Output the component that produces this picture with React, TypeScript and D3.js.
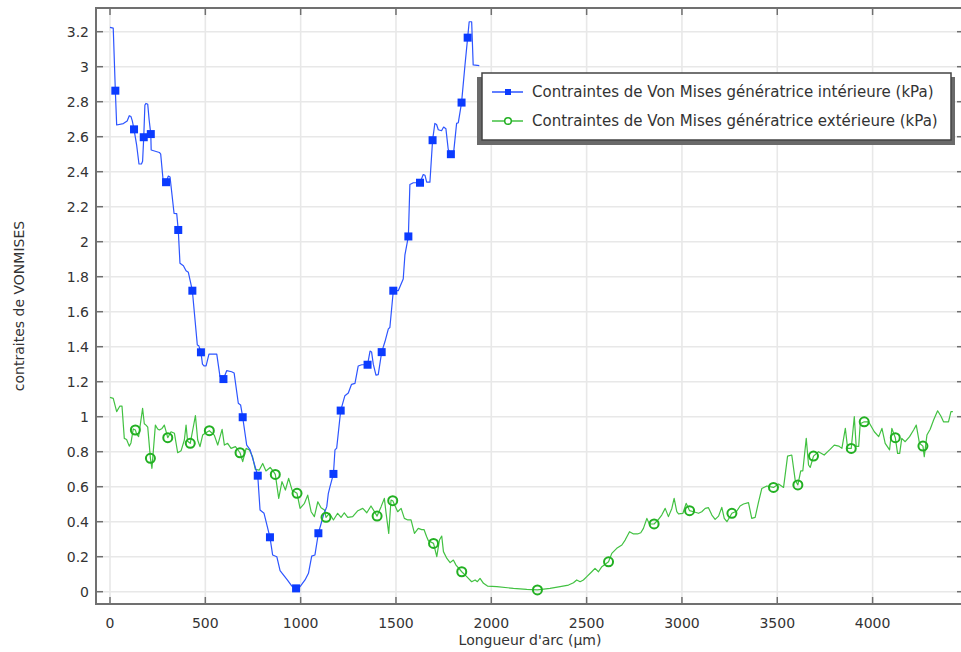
import React from "react";
import * as d3 from "d3";

// Inner generatrix (blue) — arc length (µm) and Von Mises stress (kPa)
const innerX = [0,17,28,35,70,90,101,110,117,126,140,152,165,171,177,183,189,198,205,214,216,259,266,280,294,306,315,322,336,350,358,367,385,399,411,432,458,466,477,485,493,504,519,560,577,595,612,638,651,673,685,696,717,735,757,775,787,808,839,853,875,892,930,953,976,997,1023,1041,1058,1075,1093,1119,1137,1145,1154,1172,1180,1189,1210,1232,1250,1267,1285,1302,1320,1351,1364,1372,1381,1395,1407,1425,1442,1460,1468,1486,1512,1538,1547,1565,1573,1591,1626,1643,1652,1661,1678,1692,1704,1713,1722,1739,1750,1762,1774,1788,1801,1818,1827,1844,1862,1876,1884,1897,1905,1937];
const innerY = [3.225,3.22,2.863,2.667,2.675,2.69,2.72,2.715,2.69,2.642,2.55,2.444,2.444,2.46,2.597,2.78,2.79,2.785,2.7,2.615,2.524,2.51,2.5,2.334,2.34,2.375,2.37,2.3,2.162,2.16,2.067,1.877,1.863,1.834,1.825,1.72,1.41,1.405,1.368,1.3,1.29,1.29,1.358,1.358,1.229,1.215,1.263,1.257,1.25,1.077,1.067,0.997,0.838,0.81,0.73,0.663,0.467,0.448,0.311,0.21,0.2,0.12,0.067,0.033,0.019,0.029,0.067,0.105,0.203,0.21,0.334,0.435,0.486,0.56,0.6,0.673,0.81,0.82,1.035,1.12,1.135,1.185,1.19,1.29,1.297,1.297,1.375,1.37,1.3,1.238,1.24,1.369,1.428,1.502,1.51,1.72,1.72,1.787,1.925,2.03,2.327,2.337,2.337,2.384,2.38,2.34,2.34,2.58,2.676,2.67,2.64,2.634,2.655,2.645,2.528,2.5,2.495,2.676,2.68,2.795,3.01,3.166,3.257,3.257,3.01,3.006];
const innerMarkers = [28,126,177,214,294,358,432,477,595,696,775,839,976,1093,1172,1210,1351,1425,1486,1565,1626,1692,1788,1844,1876];

// Outer generatrix (green)
const outerX = [0,17,35,52,63,75,87,101,110,122,133,140,150,171,180,189,198,212,220,238,250,259,273,285,303,320,338,355,373,390,399,407,421,434,448,460,472,486,505,521,547,565,588,600,617,635,658,682,696,714,731,748,762,783,801,818,840,855,867,885,902,920,937,955,981,997,1020,1037,1055,1072,1090,1107,1125,1133,1151,1172,1194,1212,1229,1247,1273,1300,1326,1347,1369,1401,1422,1439,1448,1462,1474,1483,1509,1527,1544,1562,1579,1597,1617,1635,1647,1661,1670,1697,1714,1728,1740,1749,1767,1784,1801,1815,1845,1871,1897,1915,1927,1941,1959,1980,2029,2116,2186,2242,2308,2361,2405,2431,2448,2466,2483,2501,2527,2544,2562,2580,2615,2632,2658,2685,2702,2725,2746,2767,2784,2798,2816,2829,2854,2877,2894,2912,2929,2947,2959,2973,2982,3005,3022,3040,3061,3087,3104,3122,3139,3157,3174,3192,3209,3222,3236,3262,3288,3305,3323,3349,3366,3384,3401,3419,3445,3480,3507,3533,3554,3576,3594,3608,3623,3634,3652,3664,3673,3690,3716,3746,3777,3799,3822,3839,3857,3869,3888,3904,3914,3927,3935,3956,3979,4009,4032,4049,4066,4089,4101,4119,4131,4142,4153,4171,4194,4215,4229,4246,4264,4271,4285,4302,4320,4341,4358,4372,4398,4411,4421];
const outerY = [1.11,1.105,1.029,1.061,1.06,0.876,0.87,0.832,0.85,0.93,0.924,0.9,0.886,1.048,0.96,0.952,0.94,0.762,0.705,0.952,0.93,0.924,0.933,0.952,0.88,0.914,0.905,0.794,0.806,0.867,0.952,0.86,0.848,0.924,1.006,0.867,0.829,0.895,0.91,0.92,0.895,0.838,0.928,0.838,0.848,0.819,0.829,0.794,0.743,0.819,0.81,0.771,0.699,0.695,0.733,0.69,0.71,0.69,0.67,0.533,0.629,0.581,0.648,0.58,0.562,0.476,0.505,0.552,0.457,0.429,0.514,0.48,0.467,0.425,0.448,0.41,0.448,0.425,0.451,0.425,0.429,0.463,0.476,0.451,0.49,0.432,0.486,0.533,0.45,0.333,0.524,0.52,0.457,0.476,0.419,0.41,0.41,0.333,0.362,0.355,0.355,0.314,0.291,0.276,0.2,0.295,0.318,0.229,0.19,0.166,0.181,0.152,0.114,0.086,0.057,0.067,0.057,0.076,0.048,0.032,0.029,0.019,0.013,0.01,0.019,0.029,0.038,0.051,0.067,0.057,0.067,0.086,0.114,0.133,0.114,0.143,0.171,0.219,0.248,0.267,0.295,0.343,0.33,0.33,0.337,0.362,0.419,0.387,0.387,0.413,0.438,0.476,0.429,0.476,0.533,0.457,0.445,0.448,0.505,0.463,0.457,0.448,0.457,0.476,0.48,0.438,0.413,0.432,0.482,0.419,0.4,0.448,0.461,0.49,0.501,0.509,0.419,0.425,0.509,0.59,0.604,0.596,0.615,0.596,0.775,0.781,0.638,0.61,0.691,0.691,0.876,0.724,0.71,0.775,0.8,0.781,0.813,0.838,0.832,0.819,0.933,0.819,0.819,1.0,0.83,0.83,0.96,0.971,0.971,0.914,0.886,0.933,0.848,0.81,0.933,0.88,0.79,0.79,0.876,0.857,0.886,0.924,0.952,0.848,0.832,0.771,0.895,0.928,0.981,1.034,1.004,0.971,0.971,1.029,1.029];
const outerMarkers = [133,212,303,421,521,682,867,981,1133,1401,1483,1697,1845,2242,2615,2854,3040,3262,3480,3608,3690,3888,3956,4119,4264];

const xTicks = [0, 500, 1000, 1500, 2000, 2500, 3000, 3500, 4000];
const yTicks = [0, 0.2, 0.4, 0.6, 0.8, 1, 1.2, 1.4, 1.6, 1.8, 2, 2.2, 2.4, 2.6, 2.8, 3, 3.2];

const legendLabels = [
  "Contraintes de Von Mises génératrice intérieure (kPa)",
  "Contraintes de Von Mises génératrice extérieure (kPa)",
];
const xTitle = "Longueur d'arc (µm)";
const yTitle = "contraites de VONMISES";

const W = 961, H = 652;
const L = 96, T = 8, R = 962, B = 604;
const FONT = "DejaVu Sans, sans-serif";

export default function App() {
  const x = d3.scaleLinear().domain([0, 4000]).range([110, 872.6]);
  const y = d3.scaleLinear().domain([0, 3.2]).range([591.7, 31.7]);

  const inner = innerX.map((v, i) => [v, innerY[i]] as [number, number]);
  const outer = outerX.map((v, i) => [v, outerY[i]] as [number, number]);
  const line = d3.line<[number, number]>().x(d => x(d[0])).y(d => y(d[1]));

  const innerM = innerMarkers.map(m => inner[innerX.indexOf(m)]).filter(Boolean);
  const outerM = outerMarkers.map(m => outer[outerX.indexOf(m)]).filter(Boolean);

  const blueLine = "#2d55ff";
  const blueMark = "#0b3bff";
  const greenLine = "#42c142";
  const greenMark = "#22b022";
  const axisCol = "#707070";
  const gridCol = "#e8e8e8";
  const textCol = "#333333";

  return (
    <svg width={W} height={H} style={{ position: "absolute", left: 0, top: 0, background: "#fff" }}
      fontFamily={FONT}>
      <defs>
        <clipPath id="plot">
          <rect x={L} y={T} width={R - L} height={B - T} />
        </clipPath>
      </defs>
      <rect x={0} y={0} width={W} height={H} fill="#fff" />
      {/* grid */}
      {xTicks.map(t => (
        <line key={"gx" + t} x1={x(t)} x2={x(t)} y1={T} y2={B} stroke={gridCol} strokeWidth={1.6} />
      ))}
      {yTicks.map(t => (
        <line key={"gy" + t} x1={L} x2={R} y1={y(t)} y2={y(t)} stroke={gridCol} strokeWidth={1.6} />
      ))}
      {/* series */}
      <g clipPath="url(#plot)">
        <path d={line(outer) || ""} fill="none" stroke={greenLine} strokeWidth={1.2} strokeLinejoin="round" />
        <path d={line(inner) || ""} fill="none" stroke={blueLine} strokeWidth={1.2} strokeLinejoin="round" />
        {outerM.map((d, i) => (
          <circle key={"om" + i} cx={x(d[0])} cy={y(d[1])} r={4.5} fill="none" stroke={greenMark} strokeWidth={2} />
        ))}
        {innerM.map((d, i) => (
          <rect key={"im" + i} x={x(d[0]) - 4} y={y(d[1]) - 4} width={8} height={8} fill={blueMark} />
        ))}
      </g>
      {/* frame */}
      <rect x={L} y={T} width={R - L} height={B - T} fill="none" stroke={axisCol} strokeWidth={2} />
      {/* ticks */}
      {xTicks.map(t => (
        <g key={"tx" + t}>
          <line x1={x(t)} x2={x(t)} y1={B} y2={B - 7} stroke={axisCol} strokeWidth={1.5} />
          <line x1={x(t)} x2={x(t)} y1={T} y2={T + 7} stroke={axisCol} strokeWidth={1.5} />
          <text x={x(t)} y={628} textAnchor="middle" fontSize={14} fill={textCol}>{t}</text>
        </g>
      ))}
      {yTicks.map(t => (
        <g key={"ty" + t}>
          <line x1={L} x2={L + 7} y1={y(t)} y2={y(t)} stroke={axisCol} strokeWidth={1.5} />
          <line x1={R} x2={R - 5} y1={y(t)} y2={y(t)} stroke={axisCol} strokeWidth={1.5} />
          <text x={89} y={y(t)} dy="0.36em" textAnchor="end" fontSize={14} fill={textCol}>
            {String(+t.toFixed(1))}
          </text>
        </g>
      ))}
      {/* axis titles */}
      <text x={530} y={645} textAnchor="middle" fontSize={14} fill={textCol}>{xTitle}</text>
      <text transform="translate(24,306) rotate(-90)" textAnchor="middle" fontSize={14} fill={textCol}>{yTitle}</text>
      {/* legend */}
      <g>
        <rect x={477} y={77} width={478} height={68} fill="#6a6a6a" />
        <rect x={482} y={73} width={469} height={67} fill="#fff" stroke="#444" strokeWidth={1.5} />
        <line x1={492} x2={523} y1={92} y2={92} stroke={blueLine} strokeWidth={1.5} />
        <rect x={505} y={89} width={6} height={6} fill={blueMark} />
        <text x={532} y={92} dy="0.36em" fontSize={15} fill={textCol}>{legendLabels[0]}</text>
        <line x1={492} x2={523} y1={121} y2={121} stroke={greenLine} strokeWidth={1.5} />
        <circle cx={508} cy={121} r={3.3} fill="#fff" stroke={greenMark} strokeWidth={1.5} />
        <text x={532} y={121} dy="0.36em" fontSize={15} fill={textCol}>{legendLabels[1]}</text>
      </g>
    </svg>
  );
}
